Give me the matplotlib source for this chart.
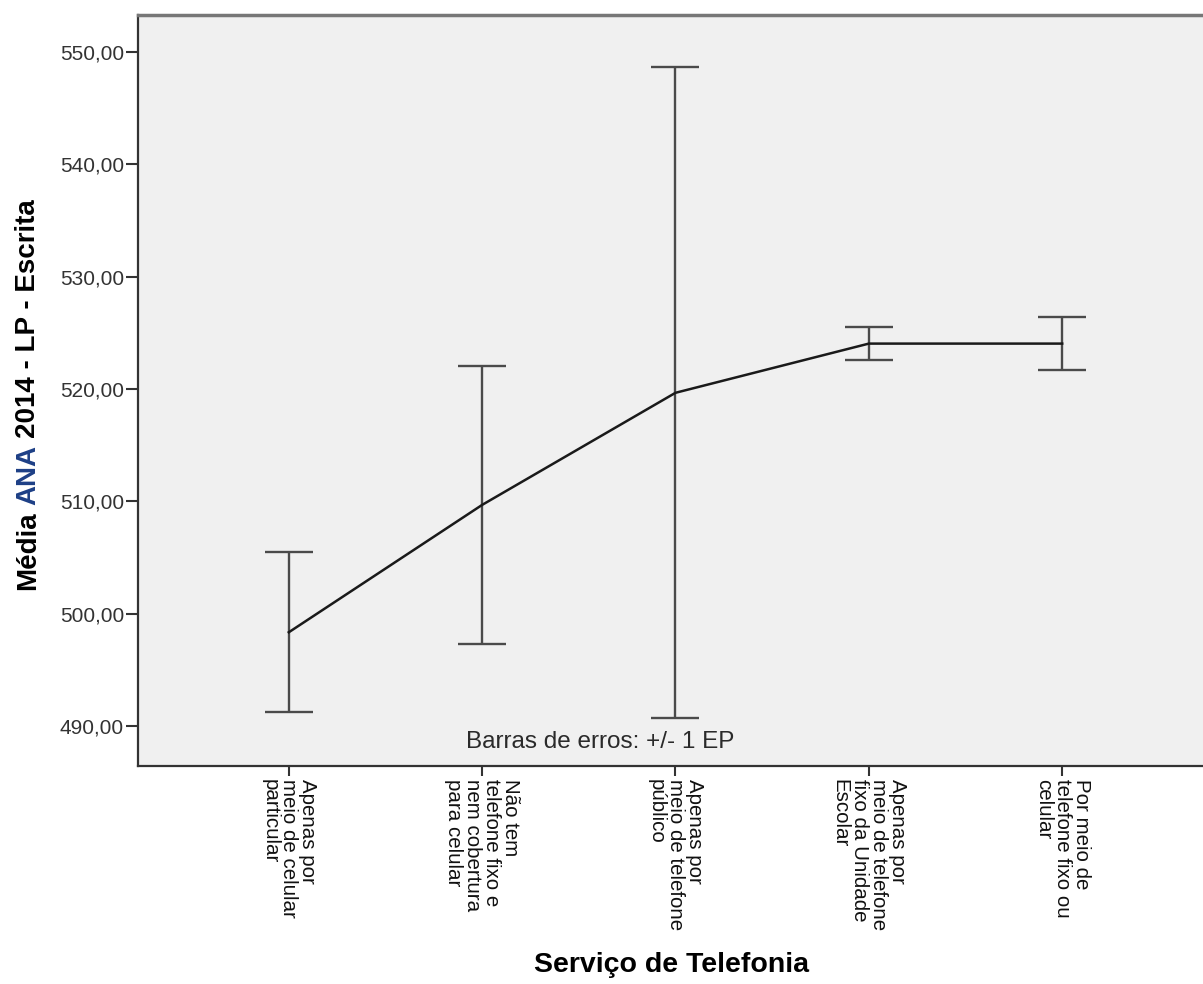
import matplotlib
matplotlib.use("Agg")
import matplotlib.pyplot as plt

plt.rcParams["font.family"] = ["Liberation Sans", "DejaVu Sans"]

categorias = [
    "Apenas por\nmeio de celular\nparticular",
    "Não tem\ntelefone fixo e\nnem cobertura\npara celular",
    "Apenas por\nmeio de telefone\npúblico",
    "Apenas por\nmeio de telefone\nfixo da Unidade\nEscolar",
    "Por meio de\ntelefone fixo ou\ncelular",
]
medias = [498.35, 509.69, 519.67, 524.05, 524.05]
erro_padrao = [7.13, 12.39, 28.98, 1.45, 2.35]
y_ticks = [490, 500, 510, 520, 530, 540, 550]

fig = plt.figure(figsize=(12.03, 9.84), dpi=100)
ax = fig.add_axes([0.1147, 0.2215, 0.8936, 0.7632])
ax.set_facecolor("#f0f0f0")

x = list(range(len(categorias)))
ax.errorbar(x, medias, yerr=erro_padrao, fmt="none", ecolor="#4a4a4a",
            elinewidth=1.7, capsize=17, capthick=1.7, zorder=2)
ax.plot(x, medias, color="#1a1a1a", lw=1.8, zorder=3)

ax.set_xlim(-0.78, 4.78)
ax.set_ylim(486.44, 553.3)

ax.set_yticks(y_ticks)
ax.set_yticklabels([f"{v:.2f}".replace(".", ",") for v in y_ticks],
                   fontsize=15, color="#333333")
ax.set_xticks(x)
ax.set_xticklabels(categorias, rotation=270, fontsize=14.8, color="#111111",
                   linespacing=1.0, multialignment="left")
ax.tick_params(axis="y", direction="out", length=9, width=1.5, pad=1,
               color="#333333")
ax.tick_params(axis="x", direction="out", length=7.5, width=1.5, pad=1.5,
               color="#333333")

for side in ("left", "bottom"):
    ax.spines[side].set_color("#333333")
    ax.spines[side].set_linewidth(1.6)
ax.spines["top"].set_color("#777777")
ax.spines["top"].set_linewidth(2.5)
ax.spines["right"].set_visible(False)

ax.text(0.430, 0.032, "Barras de erros: +/- 1 EP", transform=ax.transAxes,
        ha="center", va="center", fontsize=17.5, color="#2a2a2a")

# rótulo do eixo y em três pedaços ("ANA" em azul), posicionados pela
# altura medida dos prefixos do texto
ylab_x, ylab_y0 = 28 / 1203, 1 - 590 / 984
ylab_kw = dict(rotation=90, ha="center", fontsize=20, fontweight="bold")
renderer = fig.canvas.get_renderer()


def altura_fig(texto):
    t = fig.text(ylab_x, ylab_y0, texto, va="bottom", **ylab_kw)
    h = t.get_window_extent(renderer).height / fig.bbox.height
    t.remove()
    return h


h_media = altura_fig("Média")
h_ana = altura_fig("Média ANA")
h_total = altura_fig("Média ANA 2014 - LP - Escrita")
fig.text(ylab_x, ylab_y0, "Média", va="bottom", color="black", **ylab_kw)
fig.text(ylab_x, ylab_y0 + h_ana, "ANA", va="top", color="#1d3f86", **ylab_kw)
fig.text(ylab_x, ylab_y0 + h_total, "2014 - LP - Escrita", va="top",
         color="black", **ylab_kw)

fig.text(671 / 1203, 1 - 965 / 984, "Serviço de Telefonia", ha="center",
         va="center", fontsize=20.5, fontweight="bold", color="black")

fig.savefig("out.png", dpi=100, facecolor="white")
